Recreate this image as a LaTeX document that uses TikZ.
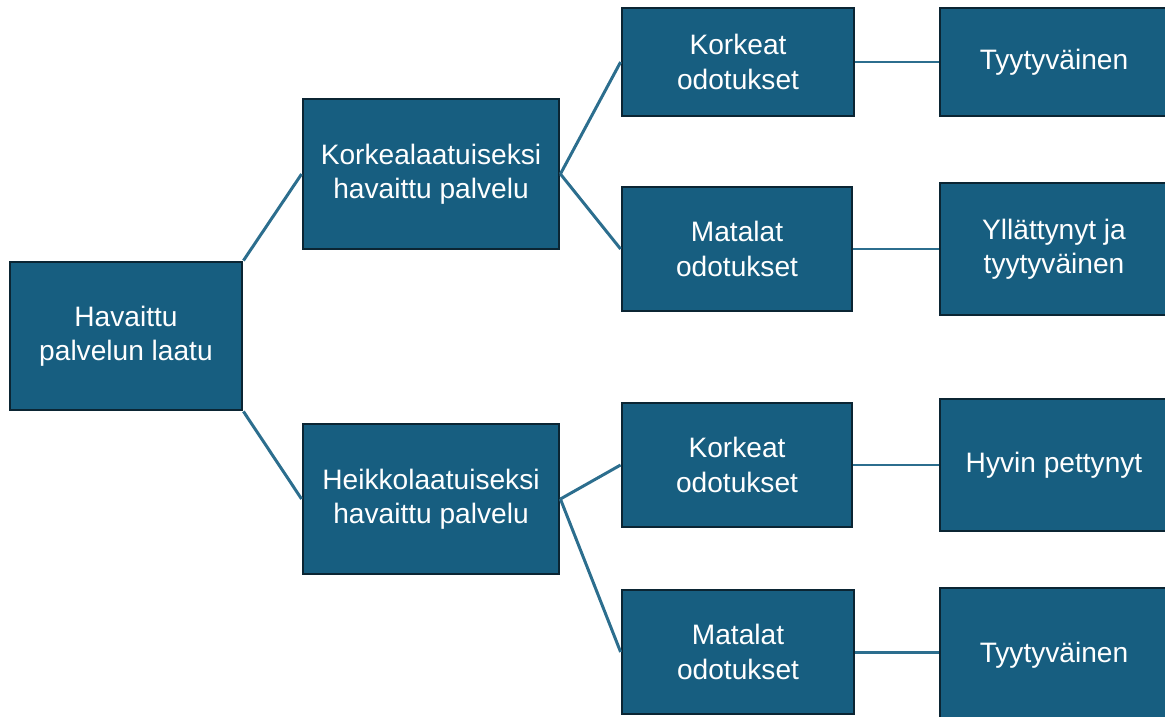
\documentclass[tikz,border=0pt]{standalone}
\usepackage{fontspec}
\setmainfont{Liberation Sans}
\usepackage{tikz}
\definecolor{boxfill}{HTML}{175E80}
\definecolor{boxline}{HTML}{0B2533}
\definecolor{linkline}{HTML}{2C6E8E}

\begin{document}
\begin{tikzpicture}[
  box/.style={draw=boxline, fill=boxfill, line width=1.6pt, text=white, align=center,
    inner sep=0pt, font=\fontsize{16}{19.6}\selectfont},
  link/.style={draw=linkline, line width=1.7pt}]
\useasboundingbox (0,0) rectangle (23.3,-14.32);
% first level
\node[box, minimum width=4.64cm, minimum height=2.96cm] (root) at (2.52,-6.72) {Havaittu\\palvelun laatu};
% second level
\node[box, minimum width=5.12cm, minimum height=3cm] (high) at (8.62,-3.48) {Korkealaatuiseksi\\havaittu palvelu};
\node[box, minimum width=5.12cm, minimum height=3cm] (low) at (8.62,-9.98) {Heikkolaatuiseksi\\havaittu palvelu};
% expectations
\node[box, minimum width=4.64cm, minimum height=2.16cm] (highhigh) at (14.76,-1.24) {Korkeat\\odotukset};
\node[box, minimum width=4.6cm, minimum height=2.48cm] (highlow) at (14.74,-4.98) {Matalat\\odotukset};
\node[box, minimum width=4.6cm, minimum height=2.48cm] (lowhigh) at (14.74,-9.30) {Korkeat\\odotukset};
\node[box, minimum width=4.64cm, minimum height=2.48cm] (lowlow) at (14.76,-13.04) {Matalat\\odotukset};
% outcomes
\node[box, minimum width=4.56cm, minimum height=2.16cm] (res1) at (21.08,-1.24) {Tyytyväinen};
\node[box, minimum width=4.56cm, minimum height=2.64cm] (res2) at (21.08,-4.98) {Yllättynyt ja\\tyytyväinen};
\node[box, minimum width=4.56cm, minimum height=2.64cm] (res3) at (21.08,-9.30) {Hyvin pettynyt};
\node[box, minimum width=4.56cm, minimum height=2.68cm] (res4) at (21.08,-13.1) {Tyytyväinen};
% connectors
\draw[link] (root.north east) -- (high.west);
\draw[link] (root.south east) -- (low.west);
\draw[link] (high.east) -- (highhigh.west);
\draw[link] (high.east) -- (highlow.west);
\draw[link] (low.east) -- (lowhigh.west);
\draw[link] (low.east) -- (lowlow.west);
\draw[link] (highhigh) -- (res1);
\draw[link] (highlow) -- (res2);
\draw[link] (lowhigh) -- (res3);
\draw[link] (lowlow.east) -- (lowlow.east -| res4.west);
\end{tikzpicture}
\end{document}
